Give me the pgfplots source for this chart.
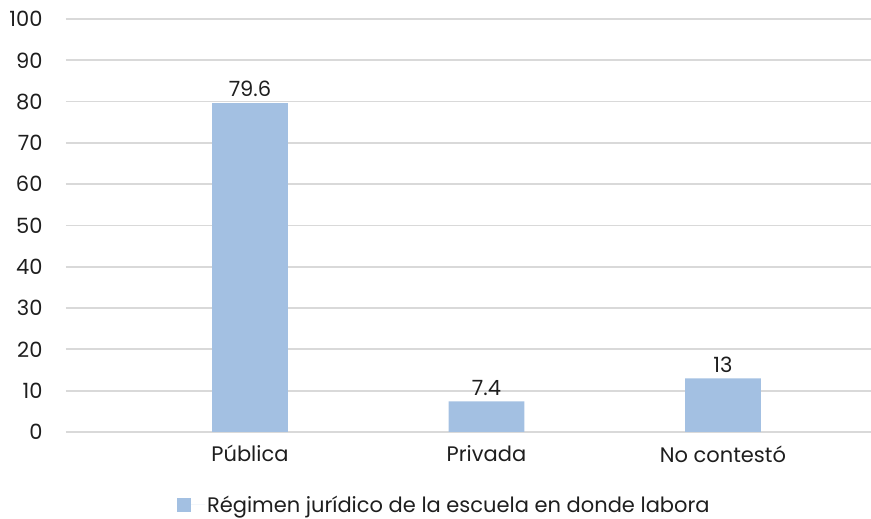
\documentclass[border=0pt]{standalone}
\usepackage{pgfplots}
\pgfplotsset{compat=1.18}
\usepackage{fontspec}
\setmainfont{Poppins}
\definecolor{barblue}{RGB}{163,192,226}
\definecolor{gridgray}{RGB}{217,217,217}
\definecolor{txt}{RGB}{30,30,30}
\begin{document}
\begin{tikzpicture}
\begin{axis}[
  scale only axis,
  width=805pt, height=413pt,
  xmin=-0.778, xmax=2.626,
  ymin=0, ymax=100,
  ytick={0,10,...,100},
  xtick={0,1,2},
  xticklabels={Pública,Privada,No contestó},
  axis line style={draw=none},
  major tick length=0pt,
  ymajorgrids,
  grid style={gridgray, line width=1.8pt},
  /pgf/number format/assume math mode=true,
  tick label style={font=\fontsize{21}{25}\selectfont, text=txt},
  yticklabel style={anchor=east, xshift=-20pt},
  xticklabel style={anchor=north, yshift=-10pt},
  ybar, bar width=0.321,
  bar shift=0pt,
  nodes near coords={\pgfmathprintnumber{\pgfplotspointmeta}},
  nodes near coords style={anchor=south, inner sep=0pt, yshift=6pt, font=\fontsize{21}{25}\selectfont, text=txt},
  legend style={at={(0.47,-0.176)}, anchor=center, draw=none, fill=none,
    font=\fontsize{21}{25}\selectfont, text=txt,
    legend cell align=left},
  legend image code/.code={\fill[barblue] (-2pt,-7pt) rectangle (12pt,7pt); \path (12pt,0pt) -- (26pt,0pt);},
  clip=false,
]
\addplot[fill=barblue, draw=none] coordinates {(0,79.6) (1,7.4) (2,13)};
\addlegendentry{Régimen jurídico de la escuela en donde labora}
\coordinate (bl) at (rel axis cs:0,0);
\coordinate (tr) at (rel axis cs:1,1);
\end{axis}
\pgfresetboundingbox
\path[use as bounding box] ([xshift=-66pt,yshift=-87pt]bl) rectangle ([yshift=19pt]tr);
\end{tikzpicture}
\end{document}
